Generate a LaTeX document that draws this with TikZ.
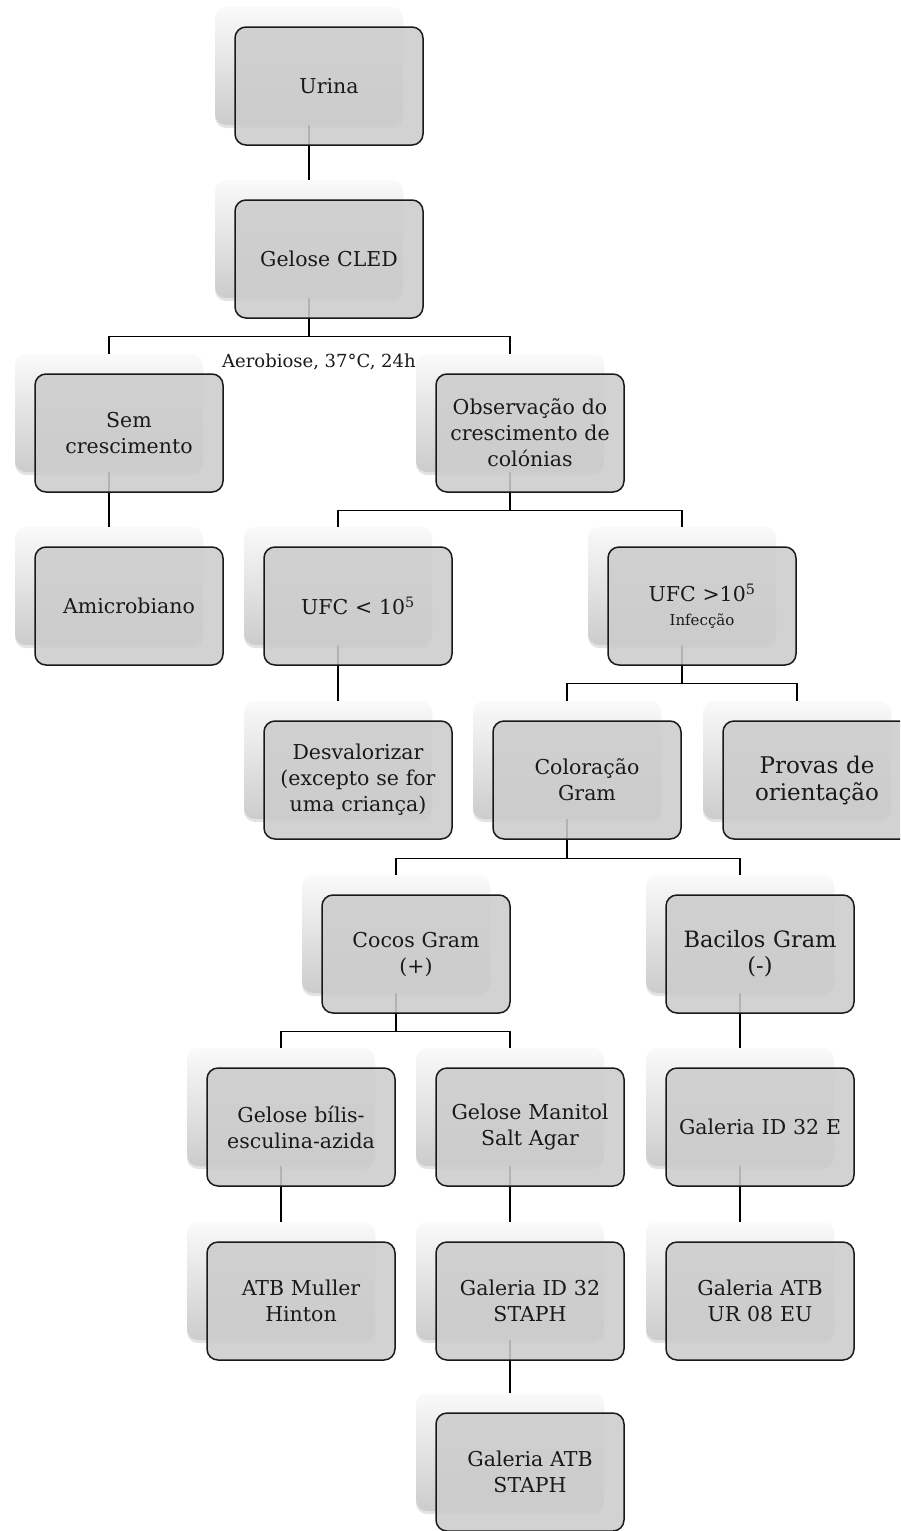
\documentclass[tikz,border=0pt]{standalone}
\usepackage{fontspec}
\setmainfont{DejaVu Serif}
\usetikzlibrary{shadows}
\tikzset{
  backbox/.style={rectangle, rounded corners=11pt, minimum width=188pt, minimum height=118pt,
    inner sep=0pt, draw=none, top color=black!2, bottom color=black!20,
    drop shadow={shadow xshift=0pt, shadow yshift=-3pt, opacity=0.22}},
  frontbox/.style={rectangle, rounded corners=11pt, minimum width=188pt, minimum height=118pt,
    inner sep=2pt, draw=black!90, line width=1.5pt, fill=black!20, fill opacity=0.88,
    text opacity=1, text=black!90, align=center, text width=184pt,
    font=\fontsize{20.5}{26}\selectfont},
  link/.style={draw=black, line width=1.4pt},
  smalllabel/.style={font=\fontsize{18}{21}\selectfont, text=black!90, inner sep=0pt}
}
\newcommand{\bx}[3]{\node[backbox] (#1b) at (#2,#3) {};}
\newcommand{\fx}[3][]{\node[frontbox,#1] (#2) at ([shift={(20,20)}]#2b.center) {#3};}
\begin{document}
\begin{tikzpicture}[x=1pt,y=-1pt]
\useasboundingbox (0,0) rectangle (900,1531);
\clip (0,0) rectangle (900,1531);
% back boxes
\bx{urina}{309}{66}
\bx{cled}{309}{239}
\bx{sem}{109}{413}
\bx{obs}{510}{413}
\bx{amic}{109}{586}
\bx{ufcl}{338}{586}
\bx{ufcg}{682}{586}
\bx{desv}{338}{760}
\bx{col}{567}{760}
\bx{prov}{797}{760}
\bx{cocos}{396}{934}
\bx{bac}{740}{934}
\bx{bilis}{281}{1107}
\bx{mani}{510}{1107}
\bx{ide}{740}{1107}
\bx{atbm}{281}{1281}
\bx{ids}{510}{1281}
\bx{atbur}{740}{1281}
\bx{atbs}{510}{1452}
% connectors
\draw[link] (urinab.south) -- (cledb.north);
\draw[link] (cledb.south) -- ++(0,38) -| (semb.north);
\draw[link] (cledb.south) -- ++(0,38) -| (obsb.north);
\draw[link] (semb.south) -- (amicb.north);
\draw[link] (obsb.south) -- ++(0,38) -| (ufclb.north);
\draw[link] (obsb.south) -- ++(0,38) -| (ufcgb.north);
\draw[link] (ufclb.south) -- (desvb.north);
\draw[link] (ufcgb.south) -- ++(0,38) -| (colb.north);
\draw[link] (ufcgb.south) -- ++(0,38) -| (provb.north);
\draw[link] (colb.south) -- ++(0,39) -| (cocosb.north);
\draw[link] (colb.south) -- ++(0,39) -| (bacb.north);
\draw[link] (cocosb.south) -- ++(0,38) -| (bilisb.north);
\draw[link] (cocosb.south) -- ++(0,38) -| (manib.north);
\draw[link] (bacb.south) -- (ideb.north);
\draw[link] (bilisb.south) -- (atbmb.north);
\draw[link] (manib.south) -- (idsb.north);
\draw[link] (ideb.south) -- (atburb.north);
\draw[link] (idsb.south) -- (atbsb.north);
% front boxes
\fx{urina}{Urina}
\fx{cled}{Gelose CLED}
\fx{sem}{Sem\\crescimento}
\fx{obs}{Observação do\\crescimento de\\colónias}
\fx{amic}{Amicrobiano}
\fx{ufcl}{UFC < 10\textsuperscript{5}}
\fx{ufcg}{UFC >10\textsuperscript{5}\\[-2pt]{\fontsize{15}{19}\selectfont Infecção}}
\fx{desv}{Desvalorizar\\(excepto se for\\uma criança)}
\fx{col}{Coloração\\Gram}
\fx[font=\fontsize{23}{27}\selectfont]{prov}{Provas de\\orientação}
\fx{cocos}{Cocos Gram\\(+)}
\fx[font=\fontsize{22.5}{26}\selectfont]{bac}{Bacilos Gram\\(-)}
\fx{bilis}{Gelose bílis-\\esculina-azida}
\fx{mani}{Gelose Manitol\\Salt Agar}
\fx{ide}{Galeria ID 32 E}
\fx{atbm}{ATB Muller\\Hinton}
\fx{ids}{Galeria ID 32\\STAPH}
\fx{atbur}{Galeria ATB\\UR 08 EU}
\fx{atbs}{Galeria ATB\\STAPH}
% label
\node[smalllabel, anchor=west] (aero) at (222,362) {Aerobiose, 37°C, 24h};
\end{tikzpicture}
\end{document}
